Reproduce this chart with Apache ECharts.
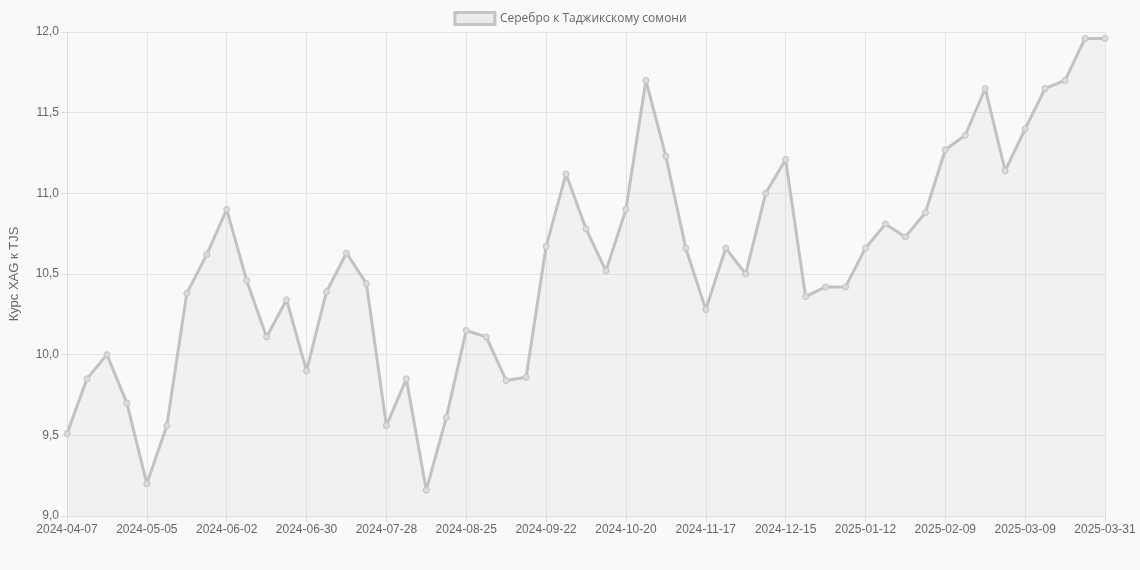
<!DOCTYPE html>
<html><head><meta charset="utf-8">
<script src="https://cdn.jsdelivr.net/npm/echarts@6/dist/echarts.min.js"></script>
<style>html,body{margin:0;background:#f9f9f9}#main{width:1140px;height:570px}</style>
</head><body><div id="main"></div>
<script>
var dates = ['2024-04-07','2024-04-14','2024-04-21','2024-04-28','2024-05-05','2024-05-12','2024-05-19','2024-05-26',
  '2024-06-02','2024-06-09','2024-06-16','2024-06-23','2024-06-30','2024-07-07','2024-07-14','2024-07-21',
  '2024-07-28','2024-08-04','2024-08-11','2024-08-18','2024-08-25','2024-09-01','2024-09-08','2024-09-15',
  '2024-09-22','2024-09-29','2024-10-06','2024-10-13','2024-10-20','2024-10-27','2024-11-03','2024-11-10',
  '2024-11-17','2024-11-24','2024-12-01','2024-12-08','2024-12-15','2024-12-22','2024-12-29','2025-01-05',
  '2025-01-12','2025-01-19','2025-01-26','2025-02-02','2025-02-09','2025-02-16','2025-02-23','2025-03-02',
  '2025-03-09','2025-03-16','2025-03-23','2025-03-30','2025-03-31'];
var rates = [9.51,9.85,10.0,9.70,9.20,9.56,10.38,10.62,10.90,10.46,10.11,10.34,9.90,10.39,10.63,10.44,
  9.56,9.85,9.16,9.61,10.15,10.11,9.84,9.86,10.67,11.12,10.78,10.52,10.90,11.70,11.23,10.66,
  10.28,10.66,10.50,11.00,11.21,10.36,10.42,10.42,10.66,10.81,10.73,10.88,11.27,11.36,11.65,11.14,
  11.40,11.65,11.70,11.96,11.96];
var seriesName = 'Серебро к Таджикскому сомони';
var yTitle = 'Курс XAG к TJS';

var chart = echarts.init(document.getElementById('main'));
chart.setOption({
  backgroundColor: '#f9f9f9',
  animation: false,
  grid: {left: 62, right: 35, top: 32, bottom: 54},
  legend: {
    top: 6, itemWidth: 40, itemHeight: 12, icon: 'rect',
    textStyle: {color: '#666', fontSize: 12, fontFamily: 'Open Sans'},
    data: [{name: seriesName, itemStyle: {color: 'rgba(200,200,200,0.25)', borderColor: '#c4c4c4', borderWidth: 3}}]
  },
  xAxis: {
    type: 'category', data: dates, boundaryGap: false,
    axisLine: {lineStyle: {color: '#ddd'}},
    axisTick: {show: true, interval: 3, length: 6, lineStyle: {color: '#ddd'}},
    axisLabel: {interval: 3, color: '#666', fontSize: 12, margin: 8},
    splitLine: {show: true, interval: 3, lineStyle: {color: '#e4e4e4'}}
  },
  yAxis: {
    type: 'value', min: 9, max: 12, interval: 0.5,
    name: yTitle, nameLocation: 'middle', nameGap: 46, nameRotate: 90,
    nameTextStyle: {color: '#666', fontSize: 13},
    axisLine: {show: true, lineStyle: {color: '#ddd'}},
    axisTick: {show: true, length: 6, lineStyle: {color: '#ddd'}},
    axisLabel: {color: '#666', fontSize: 12, formatter: function (v) { return v.toFixed(1).replace('.', ','); }},
    splitLine: {lineStyle: {color: '#e4e4e4'}}
  },
  series: [{
    name: seriesName, type: 'line', data: rates,
    symbol: 'circle', symbolSize: 6, showAllSymbol: true,
    lineStyle: {color: '#c2c2c2', width: 3},
    itemStyle: {color: '#dcdcdc', borderColor: '#c2c2c2', borderWidth: 1},
    areaStyle: {color: 'rgba(200,200,200,0.2)'}
  }]
});
</script></body></html>
